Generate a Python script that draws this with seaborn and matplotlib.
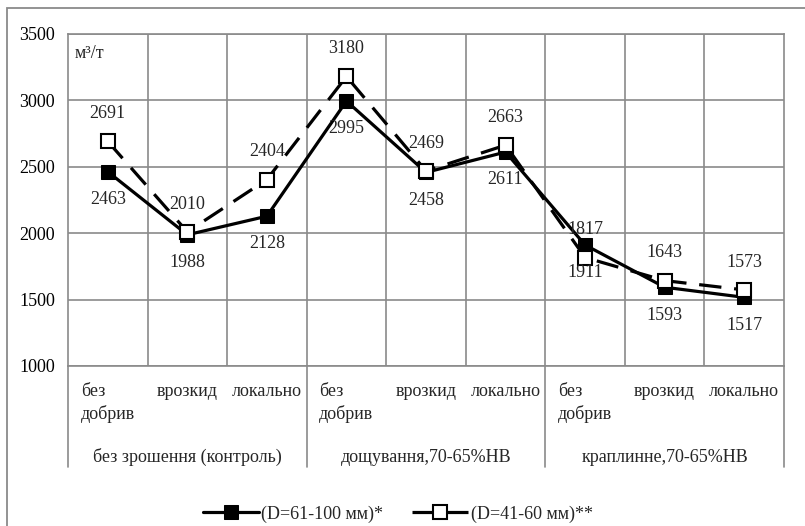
import matplotlib
matplotlib.use("Agg")
import matplotlib.pyplot as plt
import matplotlib.transforms as mtransforms
from matplotlib.patches import Rectangle
import seaborn as sns
import pandas as pd

# ---- data ----
categories = ["без\nдобрив", "врозкид", "локально",
              "без\nдобрив", "врозкид", "локально",
              "без\nдобрив", "врозкид", "локально"]
groups = ["без зрошення (контроль)", "дощування,70-65%НВ", "краплинне,70-65%НВ"]
series_names = ["(D=61-100 мм)*", "(D=41-60 мм)**"]
values_d61_100 = [2463, 1988, 2128, 2995, 2458, 2611, 1911, 1593, 1517]
values_d41_60 = [2691, 2010, 2404, 3180, 2469, 2663, 1817, 1643, 1573]
y_ticks = [1000, 1500, 2000, 2500, 3000, 3500]
unit_label = "м³/т"

sns.set_style("white")
plt.rcParams["font.family"] = ["Liberation Serif", "DejaVu Serif"]

FS = 13
GRID = "#8a8a8a"

fig = plt.figure(figsize=(8.05, 5.26), dpi=100)
ax = fig.add_axes([68 / 805, 1 - 366 / 526, (784 - 68) / 805, (366 - 34) / 526])

pos = list(range(len(categories)))
df = pd.DataFrame({"pos": pos, series_names[0]: values_d61_100, series_names[1]: values_d41_60})

sns.lineplot(data=df, x="pos", y=series_names[0], ax=ax, color="black", lw=2.3,
             marker="s", markersize=10.5, markerfacecolor="black",
             markeredgecolor="black", label=series_names[0], zorder=5)
sns.lineplot(data=df, x="pos", y=series_names[1], ax=ax, color="black", lw=2.3,
             linestyle=(0, (7, 4)), marker="s", markersize=10,
             markerfacecolor="white", markeredgecolor="black", markeredgewidth=1.5,
             label=series_names[1], zorder=6)

# data labels: filled series below, open series above
for x, v in zip(pos, values_d61_100):
    ax.annotate(str(v), (x, v), xytext=(0, -20), textcoords="offset points",
                ha="center", va="center", fontsize=FS, zorder=7)
for x, v in zip(pos, values_d41_60):
    ax.annotate(str(v), (x, v), xytext=(0, 20), textcoords="offset points",
                ha="center", va="center", fontsize=FS, zorder=7)

ax.set_xlim(-0.5, len(categories) - 0.5)
ax.set_ylim(y_ticks[0], y_ticks[-1])
ax.set_yticks(y_ticks)
ax.set_yticklabels([str(t) for t in y_ticks], fontsize=FS)
ax.set_xticks([])
ax.set_xticks([i + 0.5 for i in range(len(categories) - 1)], minor=True)
ax.tick_params(axis="y", length=0, pad=9.5, colors="black")
ax.tick_params(axis="x", which="both", length=0, labelbottom=False)
ax.grid(True, axis="y", which="major", color=GRID, lw=1.2)
ax.grid(True, axis="x", which="minor", color=GRID, lw=1.2)
for s in ax.spines.values():
    s.set_color(GRID)
    s.set_linewidth(1.2)
ax.set_xlabel("")
ax.set_ylabel("")
leg = ax.get_legend()
if leg is not None:
    leg.remove()

ax.text((75 - 68) / 716, (366 - 53) / 332, unit_label, transform=ax.transAxes,
        ha="left", va="center", fontsize=FS)

# category / group labels below the axis
trans = mtransforms.blended_transform_factory(ax.transData, ax.transAxes)
for i, c in enumerate(categories):
    ax.text(i, -(383 - 366) / 332, c, transform=trans, ha="center", va="top",
            multialignment="left", fontsize=FS, linespacing=1.35)
for g, name in enumerate(groups):
    ax.text(3 * g + 1, -(457 - 366) / 332, name, transform=trans, ha="center",
            va="center", fontsize=FS)
for xb in [-0.5, 2.5, 5.5, 8.5]:
    ax.plot([xb, xb], [0, -(467 - 366) / 332], transform=trans, color=GRID,
            lw=1.2, clip_on=False)

# legend
handles, labels = ax.get_legend_handles_labels()
fig.legend(handles[:2], labels[:2], loc="center", bbox_to_anchor=(0.494, 1 - 514 / 526),
           ncol=2, frameon=False, fontsize=FS, handlelength=3.1, handletextpad=0.15,
           columnspacing=1.6)

# outer chart border
fig.patches.append(Rectangle((7 / 805, -0.05), 1.0, (1 - 8 / 526) + 0.05,
                             transform=fig.transFigure, fill=False,
                             edgecolor=GRID, lw=1.3))

fig.savefig("out.png", dpi=100)
